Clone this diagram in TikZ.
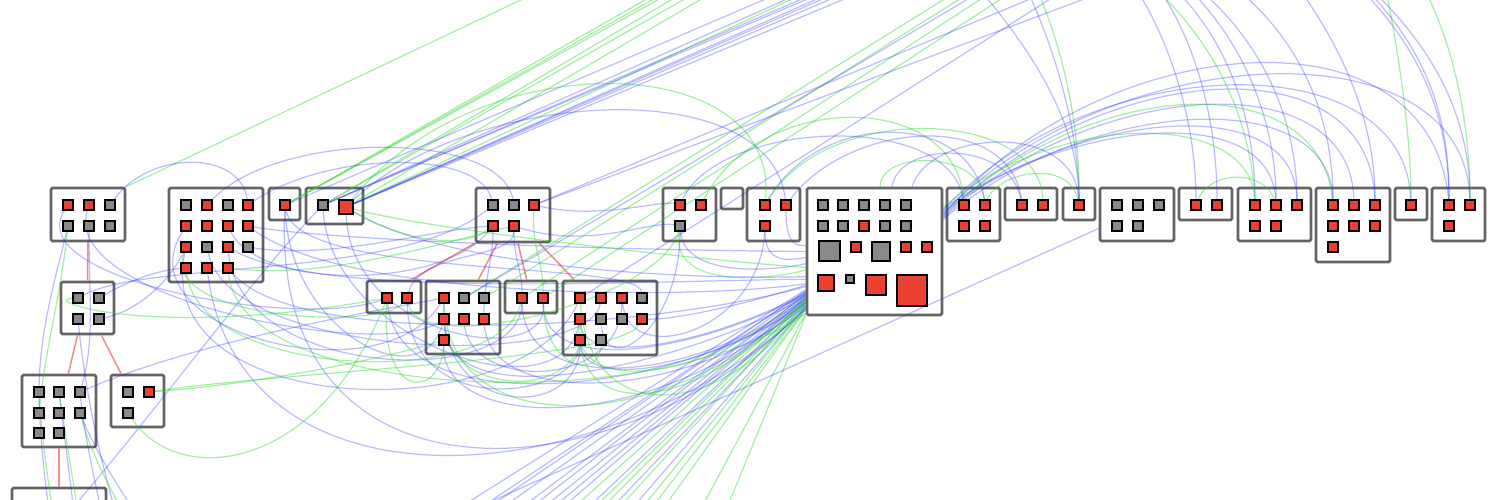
\documentclass[tikz,border=0pt]{standalone}
\usetikzlibrary{calc}
\definecolor{sqred}{RGB}{236,64,52}
\definecolor{sqgray}{RGB}{138,138,138}
\definecolor{boxc}{RGB}{100,100,100}
\definecolor{eblue}{RGB}{30,30,255}
\definecolor{egreen}{RGB}{30,215,30}
\definecolor{tred}{RGB}{240,110,110}
\pgfdeclarelayer{boxes}
\pgfdeclarelayer{edges}
\pgfsetlayers{boxes,edges,main}
\tikzset{
 grp/.style 2 args={draw=boxc, line width=2.8pt, fill=white, rounded corners=1.5pt, inner sep=0pt, minimum width=#1pt, minimum height=#2pt},
 rs/.style={draw=black, fill=sqred, line width=1.7pt, inner sep=0pt, minimum size=10pt},
 gs/.style={rs, fill=sqgray},
 bl/.style={draw=eblue, draw opacity=0.3, line width=1.2pt},
 gr/.style={draw=egreen, draw opacity=0.4, line width=1.2pt},
 tr/.style={draw=tred, draw opacity=0.8, line width=1.5pt}
}
\begin{document}
\begin{tikzpicture}[x=1pt,y=-1pt]
\useasboundingbox (0,0) rectangle (1500,499);
\begin{pgfonlayer}{boxes}
\fill[white] (0,0) rectangle (1500,499);
\node[grp={74}{53}] (B1) at (88,214.5) {};
\node[grp={94}{94}] (B2) at (216,235) {};
\node[grp={31}{32}] (B3) at (284.5,204) {};
\node[grp={57}{36}] (B4) at (334.5,206) {};
\node[grp={74}{54}] (B5) at (513,215) {};
\node[grp={54}{32}] (B6) at (394,297) {};
\node[grp={74}{73}] (B7) at (463,317.5) {};
\node[grp={52}{32}] (B8) at (531,297) {};
\node[grp={94}{74}] (B9) at (610,318) {};
\node[grp={53}{53}] (B10) at (689.5,214.5) {};
\node[grp={22}{21}] (B11) at (732,198.5) {};
\node[grp={53}{53}] (B12) at (773.5,214.5) {};
\node[grp={135}{127}] (B13) at (874.5,251.5) {};
\node[grp={53}{53}] (B14) at (973.5,214.5) {};
\node[grp={52}{32}] (B15) at (1031,204) {};
\node[grp={32}{32}] (B16) at (1079,204) {};
\node[grp={74}{53}] (B17) at (1137,214.5) {};
\node[grp={53}{32}] (B18) at (1205.5,204) {};
\node[grp={73}{53}] (B19) at (1274.5,214.5) {};
\node[grp={74}{74}] (B20) at (1353,225) {};
\node[grp={32}{32}] (B21) at (1411,204) {};
\node[grp={53}{53}] (B22) at (1458.5,214.5) {};
\node[grp={53}{52}] (B23) at (87.5,308) {};
\node[grp={74}{72}] (B24) at (59,411) {};
\node[grp={53}{52}] (B25) at (137.5,401) {};
\node[grp={94}{72}] (B26) at (59,524) {};
\end{pgfonlayer}
% squares
\node[rs] (a1) at (68,205) {}; \node[rs] (a2) at (89,205) {}; \node[gs] (a3) at (110,205) {};
\node[gs] (a4) at (68,226) {}; \node[gs] (a5) at (89,226) {}; \node[gs] (a6) at (110,226) {};
\node[gs] (b1) at (186,205) {}; \node[rs] (b2) at (207,205) {}; \node[gs] (b3) at (228,205) {}; \node[rs] (b4) at (248,205) {};
\node[rs] (b5) at (186,226) {}; \node[rs] (b6) at (207,226) {}; \node[rs] (b7) at (228,226) {}; \node[rs] (b8) at (248,226) {};
\node[rs] (b9) at (186,247) {}; \node[gs] (b10) at (207,247) {}; \node[rs] (b11) at (228,247) {}; \node[gs] (b12) at (248,247) {};
\node[rs] (b13) at (186,268) {}; \node[rs] (b14) at (207,268) {}; \node[rs] (b15) at (228,268) {};
\node[rs] (c1) at (285,205) {};
\node[gs] (d1) at (323,205) {}; \node[rs,minimum size=13.5pt] (d2) at (346,207) {};
\node[gs] (e1) at (493,205) {}; \node[gs] (e2) at (514,205) {}; \node[rs] (e3) at (534,205) {};
\node[rs] (e4) at (493,226) {}; \node[rs] (e5) at (514,226) {};
\node[rs] (f1) at (387,298) {}; \node[rs] (f2) at (407,298) {};
\node[rs] (g1) at (444,298) {}; \node[gs] (g2) at (464,298) {}; \node[gs] (g3) at (484,298) {};
\node[rs] (g4) at (444,319) {}; \node[rs] (g5) at (464,319) {}; \node[rs] (g6) at (484,319) {};
\node[rs] (g7) at (444,340) {};
\node[rs] (h1) at (522,298) {}; \node[rs] (h2) at (543,298) {};
\node[rs] (i1) at (580,298) {}; \node[rs] (i2) at (601,298) {}; \node[rs] (i3) at (622,298) {}; \node[gs] (i4) at (642,298) {};
\node[rs] (i5) at (580,319) {}; \node[gs] (i6) at (601,319) {}; \node[gs] (i7) at (622,319) {}; \node[rs] (i8) at (642,319) {};
\node[rs] (i9) at (580,340) {}; \node[gs] (i10) at (601,340) {};
\node[rs] (j1) at (680,205) {}; \node[rs] (j2) at (701,205) {}; \node[gs] (j3) at (680,226) {};
\node[rs] (k1) at (765,205) {}; \node[rs] (k2) at (786,205) {}; \node[rs] (k3) at (765,226) {};
\node[gs] (m1) at (823,205) {}; \node[gs] (m2) at (843,205) {}; \node[gs] (m3) at (864,205) {}; \node[gs] (m4) at (885,205) {}; \node[gs] (m5) at (906,205) {};
\node[gs] (m6) at (823,226) {}; \node[gs] (m7) at (843,226) {}; \node[rs] (m8) at (864,226) {}; \node[gs] (m9) at (885,226) {}; \node[gs] (m10) at (906,226) {};
\node[gs,minimum size=20.5pt] (m11) at (829.5,251) {}; \node[rs] (m12) at (856,247) {}; \node[gs,minimum size=18.5pt] (m13) at (881,251.5) {};
\node[rs] (m14) at (906,247) {}; \node[rs] (m15) at (927,247) {};
\node[rs,minimum size=16pt] (m16) at (826,283) {}; \node[gs,minimum size=8.5pt] (m17) at (850,279) {};
\node[rs,minimum size=20pt] (m18) at (876,285) {}; \node[rs,minimum size=30.5pt] (m19) at (912,290.5) {};
\node[rs] (n1) at (964,205) {}; \node[rs] (n2) at (985,205) {}; \node[rs] (n3) at (964,226) {}; \node[rs] (n4) at (985,226) {};
\node[rs] (o1) at (1022,205) {}; \node[rs] (o2) at (1043,205) {};
\node[rs] (p1) at (1079,205) {};
\node[gs] (q1) at (1117,205) {}; \node[gs] (q2) at (1138,205) {}; \node[gs] (q3) at (1159,205) {};
\node[gs] (q4) at (1117,226) {}; \node[gs] (q5) at (1138,226) {};
\node[rs] (r1) at (1196,205) {}; \node[rs] (r2) at (1217,205) {};
\node[rs] (s1) at (1255,205) {}; \node[rs] (s2) at (1276,205) {}; \node[rs] (s3) at (1297,205) {};
\node[rs] (s4) at (1255,226) {}; \node[rs] (s5) at (1276,226) {};
\node[rs] (t1) at (1333,205) {}; \node[rs] (t2) at (1354,205) {}; \node[rs] (t3) at (1375,205) {};
\node[rs] (t4) at (1333,226) {}; \node[rs] (t5) at (1354,226) {}; \node[rs] (t6) at (1375,226) {};
\node[rs] (t7) at (1333,247) {};
\node[rs] (u1) at (1411,205) {};
\node[rs] (v1) at (1449,205) {}; \node[rs] (v2) at (1470,205) {}; \node[rs] (v3) at (1449,226) {};
\node[gs] (w1) at (78,298) {}; \node[gs] (w2) at (99,298) {}; \node[gs] (w3) at (78,319) {}; \node[gs] (w4) at (99,319) {};
\node[gs] (x1) at (39,392) {}; \node[gs] (x2) at (59,392) {}; \node[gs] (x3) at (80,392) {};
\node[gs] (x4) at (39,413) {}; \node[gs] (x5) at (59,413) {}; \node[gs] (x6) at (80,413) {};
\node[gs] (x7) at (39,433) {}; \node[gs] (x8) at (59,433) {};
\node[gs] (y1) at (128,392) {}; \node[rs] (y2) at (149,392) {}; \node[gs] (y3) at (128,413) {};
% off-picture ends
\coordinate (TG1) at (680,-20); \coordinate (TG2) at (694,-20); \coordinate (TG3) at (705,-20);
\coordinate (TG4) at (718,-20); \coordinate (TG5) at (734,-20); \coordinate (TG6) at (833,-20);
\coordinate (TG7) at (563,-20); \coordinate (TG8) at (975,-20); \coordinate (TG9) at (990,-20);
\coordinate (TG10) at (1010,-20); \coordinate (TG11) at (1030,-20); \coordinate (TG12) at (688,-20);
\coordinate (TB1) at (810,-20); \coordinate (TB2) at (830,-20); \coordinate (TB3) at (846,-20);
\coordinate (TB4) at (860,-20); \coordinate (TB5) at (875,-20); \coordinate (TB6) at (890,-20);
\coordinate (TB7) at (1076,-20); \coordinate (TB8) at (1135,-20); \coordinate (TB9) at (1000,-20);
\coordinate (TB10) at (1080,-20); \coordinate (TB11) at (852,-20); \coordinate (TB12) at (866,-20);
\coordinate (TR1) at (980,-10); \coordinate (TR2) at (1027,-10); \coordinate (TR3) at (1037,-10);
\coordinate (TR4) at (1137,-10); \coordinate (TR5) at (1157,-10); \coordinate (TR6) at (1176,-10);
\coordinate (TR7) at (1190,-10); \coordinate (TR8) at (1200,-10); \coordinate (TR9) at (1238,-10);
\coordinate (TR10) at (1362,-10); \coordinate (TR11) at (1372,-10); \coordinate (TR12) at (1386,-10);
\coordinate (TR13) at (1425,-10); \coordinate (TR14) at (1367,-10); \coordinate (TR15) at (1300,-10);
\coordinate (TR16) at (1160,-10);
\coordinate (DB1) at (440,520); \coordinate (DB2) at (462,520); \coordinate (DB3) at (485,520);
\coordinate (DB4) at (505,520); \coordinate (DB5) at (528,520); \coordinate (DB6) at (548,520);
\coordinate (DB7) at (600,520); \coordinate (DB8) at (622,520); \coordinate (DB9) at (450,520);
\coordinate (DB10) at (470,520); \coordinate (DB11) at (515,520); \coordinate (DB12) at (538,520);
\coordinate (DB13) at (575,520);
\coordinate (DG1) at (560,520); \coordinate (DG2) at (582,520); \coordinate (DG3) at (608,520);
\coordinate (DG4) at (632,520); \coordinate (DG5) at (655,520); \coordinate (DG6) at (695,520);
\coordinate (DG7) at (722,520); \coordinate (DG8) at (590,520); \coordinate (DG9) at (642,520);
\coordinate (D1) at (50,520); \coordinate (D1b) at (54,520); \coordinate (D2) at (75,520);
\coordinate (D2b) at (79,520); \coordinate (D3) at (103,520); \coordinate (D4) at (128,520);
\coordinate (D5) at (140,520); \coordinate (D6) at (118,520); \coordinate (D7) at (62,520);
\begin{pgfonlayer}{edges}
\begin{scope}
\clip (0,0) rectangle (1500,499);
% hierarchy
\draw[tr] (B1.south) -- (B23.north);
\draw[tr] (B23.250) -- (B24.76);
\draw[tr] (B23.297) -- (B25.121);
\draw[tr] (B24.south) -- (B26.north);
\draw[tr] (B5.south west) -- (B6.45);
\draw[tr] (B5.241) -- (B7.68);
\draw[tr] (B5.280) -- (B8.104);
\draw[tr] (B5.313) -- (B9.133);
% straight bundles to the top
\draw[gr] (c1) -- (TG1); \draw[gr] (c1) -- (TG2); \draw[gr] (c1) -- (TG12); \draw[gr] (d1) -- (TG3);
\draw[gr] (d1) -- (TG4); \draw[gr] (d2) -- (TG5); \draw[gr] (d2) -- (TG6);
\draw[gr] (B1.north east) -- (TG7); \draw[gr] (g2) -- (TG8); \draw[gr] (g3) -- (TG9);
\draw[gr] (h1) -- (TG10); \draw[gr] (h2) -- (TG11);
\draw[bl] (c1) -- (TB1); \draw[bl] (d1) -- (TB2); \draw[bl] (d1) -- (TB3);
\draw[bl] (d2) -- (TB4); \draw[bl] (d2) -- (TB5); \draw[bl] (d2) -- (TB6);
\draw[bl] (d1) -- (TB11); \draw[bl] (d2) -- (TB12);
\draw[bl] (e3) -- (TB7); \draw[bl] (e3) -- (TB8); \draw[bl] (g2) -- (TB9);
\draw[bl] (i1) -- (TB10);
% from the top down to the right boxes
\draw[bl] (TR1) .. controls (1040,60) and (1079,130) .. (p1);
\draw[bl] (TR2) .. controls (1060,60) and (1079,140) .. (p1);
\draw[gr] (TR3) .. controls (1068,60) and (1080,140) .. (p1);
\draw[bl] (TR4) .. controls (1180,60) and (1196,140) .. (r1);
\draw[gr] (TR5) .. controls (1230,60) and (1252,140) .. (s1);
\draw[bl] (TR6) .. controls (1235,50) and (1255,130) .. (s1);
\draw[bl] (TR7) .. controls (1250,50) and (1276,130) .. (s2);
\draw[bl] (TR8) .. controls (1270,50) and (1297,130) .. (s3);
\draw[bl] (TR9) .. controls (1310,50) and (1333,130) .. (t1);
\draw[bl] (TR10) .. controls (1430,60) and (1449,130) .. (v1);
\draw[bl] (TR11) .. controls (1445,60) and (1470,130) .. (v2);
\draw[gr] (TR12) .. controls (1400,60) and (1411,140) .. (u1);
\draw[gr] (TR13) .. controls (1460,60) and (1470,140) .. (v2);
\draw[bl] (TR14) .. controls (1435,60) and (1449,130) .. (v1);
\draw[bl] (TR15) .. controls (1350,60) and (1375,130) .. (t3);
\draw[bl] (TR16) .. controls (1200,50) and (1217,130) .. (r2);
% arcs from the big group to the right
\draw[bl] (B13.28) .. controls (1100,30) and (1430,0) .. (v1);
\draw[bl] (B13.29) .. controls (1110,40) and (1465,20) .. (v2);
\draw[bl] (B13.27) .. controls (1100,60) and (1370,40) .. (t3);
\draw[bl] (B13.26) .. controls (1090,80) and (1350,60) .. (t2);
\draw[bl] (B13.25) .. controls (1080,100) and (1330,80) .. (t1);
\draw[bl] (B13.30) .. controls (1080,110) and (1295,90) .. (s3);
\draw[bl] (B13.31) .. controls (1090,50) and (1405,40) .. (u1);
\draw[gr] (B13.28) .. controls (1100,70) and (1320,70) .. (t1);
\draw[bl] (B13.32) .. controls (1070,120) and (1270,100) .. (s2);
\draw[gr] (B13.33) .. controls (1060,110) and (1250,110) .. (s1);
% arcs above the top row
\draw[bl] (k1) .. controls (820,110) and (970,110) .. (n2);
\draw[gr] (j2) .. controls (760,90) and (955,90) .. (n1);
\draw[bl] (k2) .. controls (850,120) and (1010,110) .. (o1);
\draw[gr] (k1) .. controls (830,100) and (1040,110) .. (o2);
\draw[bl] (j1) .. controls (720,120) and (950,110) .. (n1);
\draw[gr] (n2) .. controls (1000,170) and (1070,160) .. (p1);
\draw[gr] (r1) .. controls (1210,170) and (1265,170) .. (s2);
\draw[bl] (B13.75) .. controls (900,140) and (1010,140) .. (o1);
\draw[gr] (B13.85) .. controls (880,150) and (980,150) .. (n2);
\draw[bl] (B13.60) .. controls (930,130) and (1075,120) .. (p1);
\draw[gr] (d2) .. controls (480,40) and (780,50) .. (k1);
\draw[bl] (d2) .. controls (470,90) and (770,70) .. (k2);
\draw[bl] (a3) .. controls (150,150) and (240,150) .. (b4);
\draw[bl] (b2) .. controls (280,130) and (500,130) .. (e2);
\draw[bl] (b4) .. controls (330,150) and (480,150) .. (e1);
% bundle from the big group down to the left
\draw[bl] (B13.209) -- (DB1); \draw[bl] (B13.210) -- (DB2); \draw[bl] (B13.211) -- (DB3);
\draw[bl] (B13.212) -- (DB4); \draw[bl] (B13.213) -- (DB5); \draw[bl] (B13.214) -- (DB6);
\draw[bl] (B13.218) -- (DB7); \draw[bl] (B13.219) -- (DB8);
\draw[bl] (B13.210) -- (DB10); \draw[bl] (B13.212) -- (DB11); \draw[bl] (B13.214) -- (DB12);
\draw[bl] (B13.216) -- (DB13);
\draw[gr] (B13.215) -- (DG1); \draw[gr] (B13.216) -- (DG2); \draw[gr] (B13.217) -- (DG3);
\draw[gr] (B13.219) -- (DG4); \draw[gr] (B13.220) -- (DG5); \draw[gr] (B13.222) -- (DG6);
\draw[gr] (B13.223) -- (DG7); \draw[gr] (B13.217) -- (DG8); \draw[gr] (B13.220) -- (DG9);
\draw[bl] (B17.200) -- (DB9);
% middle region
\draw[bl] (a1) .. controls (20,280) and (300,330) .. (f1);
\draw[bl] (a2) .. controls (60,300) and (380,360) .. (g4);
\draw[bl] (b5) .. controls (120,330) and (380,400) .. (g1);
\draw[bl] (b9) .. controls (150,420) and (520,430) .. (i1);
\draw[bl] (c1) .. controls (290,330) and (420,400) .. (g4);
\draw[bl] (d1) .. controls (330,340) and (560,420) .. (i5);
\draw[bl] (f1) .. controls (400,430) and (700,390) .. (B13.215);
\draw[bl] (f2) .. controls (410,420) and (575,400) .. (i9);
\draw[bl] (g4) .. controls (450,430) and (720,350) .. (B13.213);
\draw[bl] (g5) .. controls (470,390) and (620,390) .. (i3);
\draw[bl] (g6) .. controls (490,410) and (690,400) .. (B13.218);
\draw[bl] (h1) .. controls (520,390) and (240,380) .. (b11);
\draw[bl] (h2) .. controls (550,370) and (350,340) .. (d2);
\draw[bl] (g7) .. controls (440,430) and (650,440) .. (B13.216);
\draw[bl] (h1) .. controls (525,400) and (700,380) .. (B13.214);
\draw[bl] (h2) .. controls (545,380) and (700,350) .. (B13.212);
\draw[bl] (i5) .. controls (585,370) and (720,340) .. (B13.211);
\draw[bl] (i9) .. controls (585,390) and (710,370) .. (B13.217);
\draw[bl] (j3) .. controls (685,280) and (780,270) .. (B13.190);
\draw[bl] (k3) .. controls (765,265) and (790,260) .. (B13.185);
\draw[bl] (k2) .. controls (786,250) and (800,245) .. (B13.175);
\draw[bl] (c1) .. controls (270,520) and (620,500) .. (B13.219);
\draw[bl] (b14) .. controls (240,520) and (600,500) .. (B13.220);
\draw[bl] (w2) .. controls (130,280) and (160,270) .. (b13);
\draw[bl] (w4) .. controls (140,310) and (170,280) .. (b9);
\draw[bl] (a5) .. controls (89,300) and (95,340) .. (x3);
\draw[bl] (w3) .. controls (85,390) and (100,460) .. (D6);
\draw[bl] (a4) .. controls (55,280) and (40,330) .. (x1);
\draw[bl] (D7) .. controls (150,420) and (250,280) .. (d1);
\draw[bl] (x3) .. controls (200,340) and (380,310) .. (g1);
\draw[bl] (b15) .. controls (300,350) and (650,330) .. (B13.207);
\draw[bl] (b10) .. controls (230,360) and (590,370) .. (i2);
\draw[bl] (e4) .. controls (440,290) and (260,290) .. (b7);
\draw[bl] (e5) .. controls (514,260) and (420,250) .. (f2);
\draw[bl] (c1) .. controls (300,280) and (640,260) .. (i4);
\draw[bl] (d2) .. controls (450,270) and (700,280) .. (B13.200);
\draw[bl] (b8) .. controls (350,300) and (700,300) .. (B13.205);
\draw[bl] (b12) .. controls (330,260) and (430,230) .. (e4);
\draw[bl] (b8) .. controls (330,240) and (600,250) .. (B13.180);
\draw[bl] (b11) .. controls (320,300) and (650,280) .. (B13.202);
\draw[bl] (e1) .. controls (400,280) and (150,260) .. (w1);
\draw[bl] (i6) .. controls (605,380) and (680,330) .. (j3);
\draw[bl] (i3) .. controls (630,370) and (760,330) .. (k3);
\draw[bl] (i8) .. controls (680,320) and (760,300) .. (B13.206);
\draw[bl] (g1) .. controls (440,420) and (580,420) .. (i9);
\draw[bl] (e4) .. controls (493,260) and (484,280) .. (g6);
\draw[bl] (e5) .. controls (514,260) and (522,270) .. (h1);
\draw[bl] (e5) .. controls (590,250) and (650,220) .. (j3);
\draw[bl] (e3) .. controls (600,220) and (660,200) .. (j1);
\draw[bl] (x1) .. controls (40,440) and (45,480) .. (D1);
\draw[bl] (x2) -- (D2);
\draw[bl] (x3) .. controls (85,440) and (95,480) .. (D3);
\draw[bl] (x6) .. controls (95,450) and (120,490) .. (D5);
\draw[gr] (x1) .. controls (42,440) and (48,480) .. (D1b);
\draw[gr] (x2) -- (D2b);
\draw[gr] (x6) .. controls (90,450) and (110,490) .. (D4);
\draw[gr] (y3) .. controls (180,490) and (320,470) .. (f1);
\draw[gr] (y2) .. controls (250,385) and (380,360) .. (g7);
\draw[gr] (g1) .. controls (450,450) and (680,430) .. (B13.215);
\draw[gr] (b13) .. controls (200,380) and (500,390) .. (h1);
\draw[gr] (b9) .. controls (160,320) and (380,330) .. (f2);
\draw[gr] (a4) .. controls (60,300) and (45,350) .. (x4);
\draw[gr] (i1) .. controls (590,430) and (720,420) .. (B13.218);
\draw[gr] (g4) .. controls (450,400) and (590,400) .. (i5);
\draw[gr] (h2) .. controls (545,370) and (600,380) .. (i10);
\draw[gr] (e3) .. controls (532,250) and (543,260) .. (h2);
\draw[gr] (b15) .. controls (240,400) and (650,420) .. (B13.222);
\draw[gr] (y2) .. controls (300,370) and (620,360) .. (i8);
\draw[gr] (f2) .. controls (420,360) and (660,300) .. (j3);
\draw[gr] (i5) .. controls (570,400) and (720,380) .. (B13.210);
\draw[gr] (i9) .. controls (590,420) and (700,410) .. (B13.214);
\draw[gr] (f1) .. controls (380,400) and (440,400) .. (g7);
\draw[gr] (j3) .. controls (670,290) and (770,280) .. (B13.195);
\draw[gr] (b15) .. controls (330,280) and (450,240) .. (e5);
\draw[gr] (d2) .. controls (430,230) and (700,260) .. (B13.193);
\draw[gr] (d2) .. controls (400,240) and (460,250) .. (e4);
\draw[gr] (w1) .. controls (40,300) and (150,340) .. (f1);
\end{scope}
\end{pgfonlayer}
\end{tikzpicture}
\end{document}
